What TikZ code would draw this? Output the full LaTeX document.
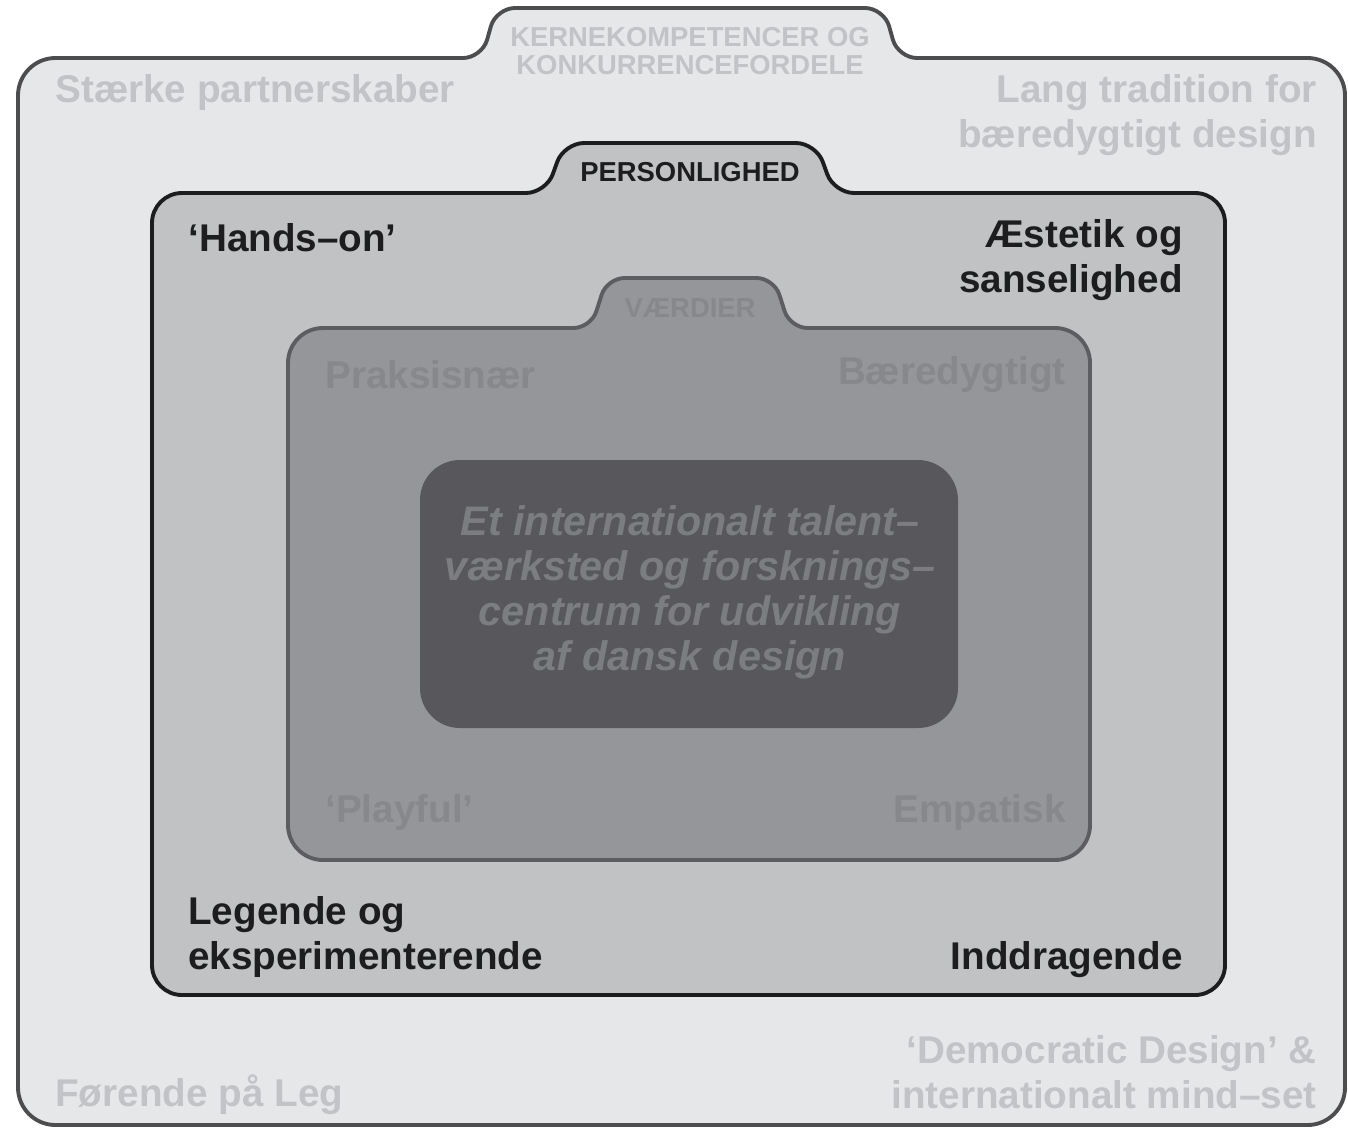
\documentclass[tikz,border=0pt]{standalone}
\usepackage{fontspec}
\setmainfont{Liberation Sans}
\usetikzlibrary{positioning}

\definecolor{outerfill}{HTML}{E6E7E9}
\definecolor{outerline}{HTML}{4D4D4F}
\definecolor{outertext}{HTML}{C2C3C6}
\definecolor{midfill}{HTML}{C1C2C4}
\definecolor{midline}{HTML}{1D1D1F}
\definecolor{midtext}{HTML}{1D1D1F}
\definecolor{valfill}{HTML}{95969A}
\definecolor{valline}{HTML}{5D5D61}
\definecolor{valtext}{HTML}{87888C}
\definecolor{corefill}{HTML}{58585C}
\definecolor{coretext}{HTML}{7C7D81}

\begin{document}
\begin{tikzpicture}[x=0.02cm, y=-0.02cm,
    folder/.style={line width=2.2pt, line join=round},
    label/.style={font=\bfseries\fontsize{22}{25.6}\selectfont, inner sep=0pt},
    tabtitle/.style={font=\bfseries\fontsize{15.6}{15.9}\selectfont, inner sep=0pt, align=center}]
    \useasboundingbox (0,0) rectangle (1348,1129);

    % Folders
    \draw[folder, fill=outerfill, draw=outerline, rounded corners=0.75cm]
        (18,600) -- (18,1125) -- (1345,1125) -- (1345,58) -- (1100,58)
        [rounded corners=0.38cm] -- (898,58) -- (884,8) -- (496,8) -- (482,58) -- (250,58)
        [rounded corners=0.75cm] -- (18,58) -- cycle;
    \draw[folder, fill=midfill, draw=midline, rounded corners=0.6cm]
        (152,600) -- (152,995) -- (1225,995) -- (1225,193) -- (1000,193)
        [rounded corners=0.4cm] -- (834,193) -- (816,143) -- (564,143) -- (546,193) -- (350,193)
        [rounded corners=0.6cm] -- (152,193) -- cycle;
    \draw[folder, fill=valfill, draw=valline, rounded corners=0.7cm]
        (288,600) -- (288,860) -- (1090,860) -- (1090,328) -- (950,328)
        [rounded corners=0.35cm] -- (790,328) -- (774,278) -- (607,278) -- (591,328) -- (450,328)
        [rounded corners=0.7cm] -- (288,328) -- cycle;
    \fill[corefill, rounded corners=0.8cm] (420,460) rectangle (958,728);

    % Tab titles
    \node (kerne) [tabtitle, text=outertext] at (690,51) {KERNEKOMPETENCER OG\\KONKURRENCEFORDELE};
    \node (person) [tabtitle, text=midtext] at (690,172) {PERSONLIGHED};
    \node (vaerdi) [tabtitle, text=valtext] at (690,308) {VÆRDIER};

    % Kernekompetencer
    \node (staerke) [label, text=outertext, anchor=west] at (55,93) {Stærke partnerskaber};
    \node (tradition) [label, text=outertext, anchor=east, align=right] at (1317,115) {Lang tradition for\\bæredygtigt design};
    \node (foerende) [label, text=outertext, anchor=west] at (55,1095) {Førende på Leg};
    \node (democratic) [label, text=outertext, anchor=east, align=right] at (1317,1072) {‘Democratic Design’ \&\\internationalt mind–set};

    % Personlighed
    \node (hands) [label, text=midtext, anchor=west] at (188,238) {‘Hands–on’};
    \node (aestetik) [label, text=midtext, anchor=east, align=right] at (1183,260) {Æstetik og\\sanselighed};
    \node (legende) [label, text=midtext, anchor=west, align=left] at (188,937) {Legende og\\eksperimenterende};
    \node (inddrag) [label, text=midtext, anchor=east] at (1183,960) {Inddragende};

    % Vaerdier
    \node (praksis) [label, text=valtext, anchor=west] at (325,375) {Praksisnær};
    \node (baeredygt) [label, text=valtext, anchor=east] at (1066,375) {Bæredygtigt};
    \node (playful) [label, text=valtext, anchor=west] at (325,812) {‘Playful’};
    \node (empatisk) [label, text=valtext, anchor=east] at (1066,812) {Empatisk};

    % Kerne
    \node (vision) [label, font=\bfseries\itshape\fontsize{23.5}{25.6}\selectfont, text=coretext, align=center] at (690,592)
        {Et internationalt talent–\\værksted og forsknings–\\centrum for udvikling\\af dansk design};
\end{tikzpicture}
\end{document}
